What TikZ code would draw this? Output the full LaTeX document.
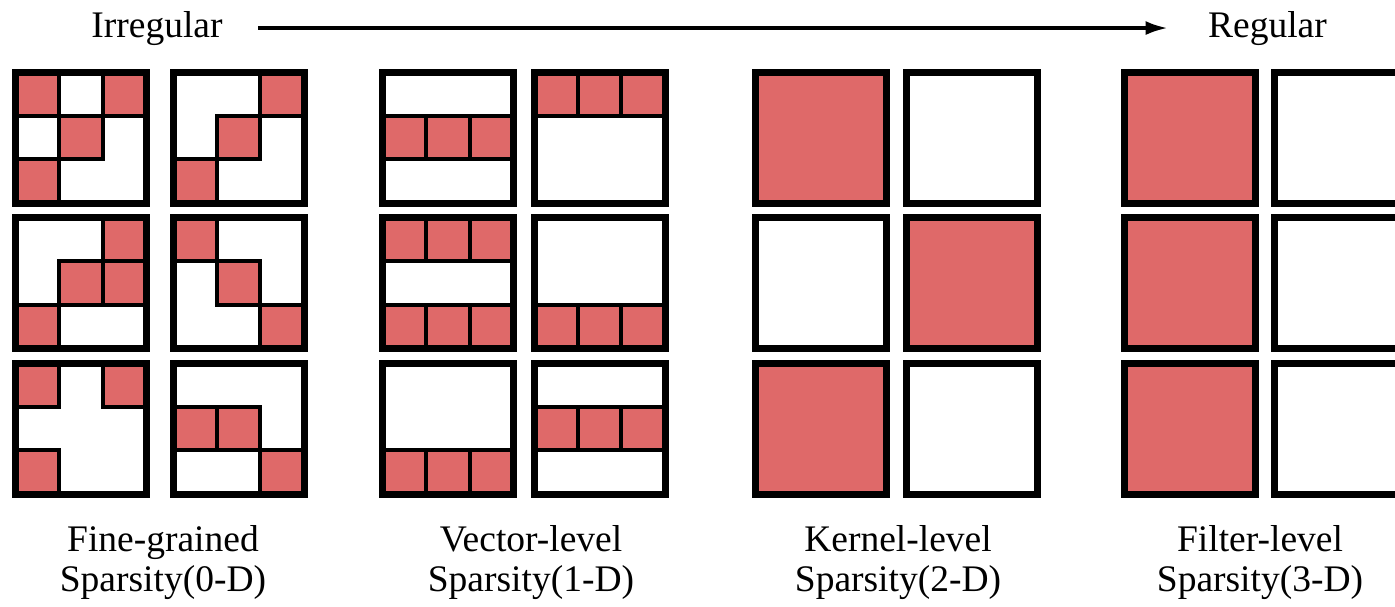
\documentclass[tikz,border=0pt]{standalone}
\usepackage{fontspec}
\setmainfont{Liberation Serif}
\usepackage{tikz}
\usetikzlibrary{arrows.meta}
\usepackage{xcolor}
\definecolor{prune}{RGB}{223,105,105}
\tikzstyle{frame} = [rectangle, fill=white, minimum size=131pt,
    inner sep=0pt, outer sep=0pt]
\tikzstyle{border} = [draw, line width=7pt]
\tikzstyle{cell} = [rectangle, draw, line width=4pt, fill=prune,
    minimum size=43.67pt, inner sep=0pt]
\tikzstyle{title} = [font=\fontsize{37.5}{40}\selectfont, anchor=base]
\tikzstyle{caption} = [title, align=center]
\tikzstyle{line} = [draw, line width=3.3pt, -{Latex[length=22pt,width=14pt]}]
% red weights inside one kernel, given as column/row pairs
\newcommand{\redcells}[2]{%
    \begin{scope}[shift={(#1)}]
        \foreach \c/\r in {#2}
            \node [cell] at ({(\c-2)*43.67},{(2-\r)*43.67}) {};
    \end{scope}}

\begin{document}
\begin{tikzpicture}[x=1pt, y=1pt, node distance=145.5pt]
            \useasboundingbox (0,0) rectangle (1395,-606);
            % Place kernels, two columns per group
            \foreach \g/\x/\d in {fg/81/157.5, vl/448/151.5, kl/821/150.5, fl/1190/150} {
                \node [frame] (\g11) at (\x,-137.5) {};
                \node [frame, below of=\g11] (\g21) {};
                \node [frame, below of=\g21] (\g31) {};
                \node [frame, right of=\g11, node distance=\d pt] (\g12) {};
                \node [frame, right of=\g21, node distance=\d pt] (\g22) {};
                \node [frame, right of=\g31, node distance=\d pt] (\g32) {};
            }
            % Fine-grained
            \redcells{fg11}{1/1, 3/1, 2/2, 1/3}
            \redcells{fg12}{3/1, 2/2, 1/3}
            \redcells{fg21}{3/1, 2/2, 3/2, 1/3}
            \redcells{fg22}{1/1, 2/2, 3/3}
            \redcells{fg31}{1/1, 3/1, 1/3}
            \redcells{fg32}{1/2, 2/2, 3/3}
            % Vector-level
            \redcells{vl11}{1/2, 2/2, 3/2}
            \redcells{vl12}{1/1, 2/1, 3/1}
            \redcells{vl21}{1/1, 2/1, 3/1, 1/3, 2/3, 3/3}
            \redcells{vl22}{1/3, 2/3, 3/3}
            \redcells{vl31}{1/3, 2/3, 3/3}
            \redcells{vl32}{1/2, 2/2, 3/2}
            % Kernel-level and filter-level
            \foreach \f in {kl11, kl22, kl31, fl11, fl21, fl31}
                \fill [prune] (\f.south west) rectangle (\f.north east);
            \foreach \g in {fg, vl, kl, fl}
                \foreach \f in {11, 12, 21, 22, 31, 32}
                    \path [border] (\g\f.south west) rectangle (\g\f.north east);
            % Labels
            \node [title] (irr) at (157,-37) {Irregular};
            \node [title] (reg) at (1267.5,-37) {Regular};
            \path [line, shorten <=32pt, shorten >=37pt] (irr) -- (reg);
            \node [caption] (fgcap) at (163,-591) {Fine-grained\\Sparsity(0-D)};
            \node [caption] (vlcap) at (531,-591) {Vector-level\\Sparsity(1-D)};
            \node [caption] (klcap) at (898,-591) {Kernel-level\\Sparsity(2-D)};
            \node [caption] (flcap) at (1260,-591) {Filter-level\\Sparsity(3-D)};
        \end{tikzpicture}
\end{document}
